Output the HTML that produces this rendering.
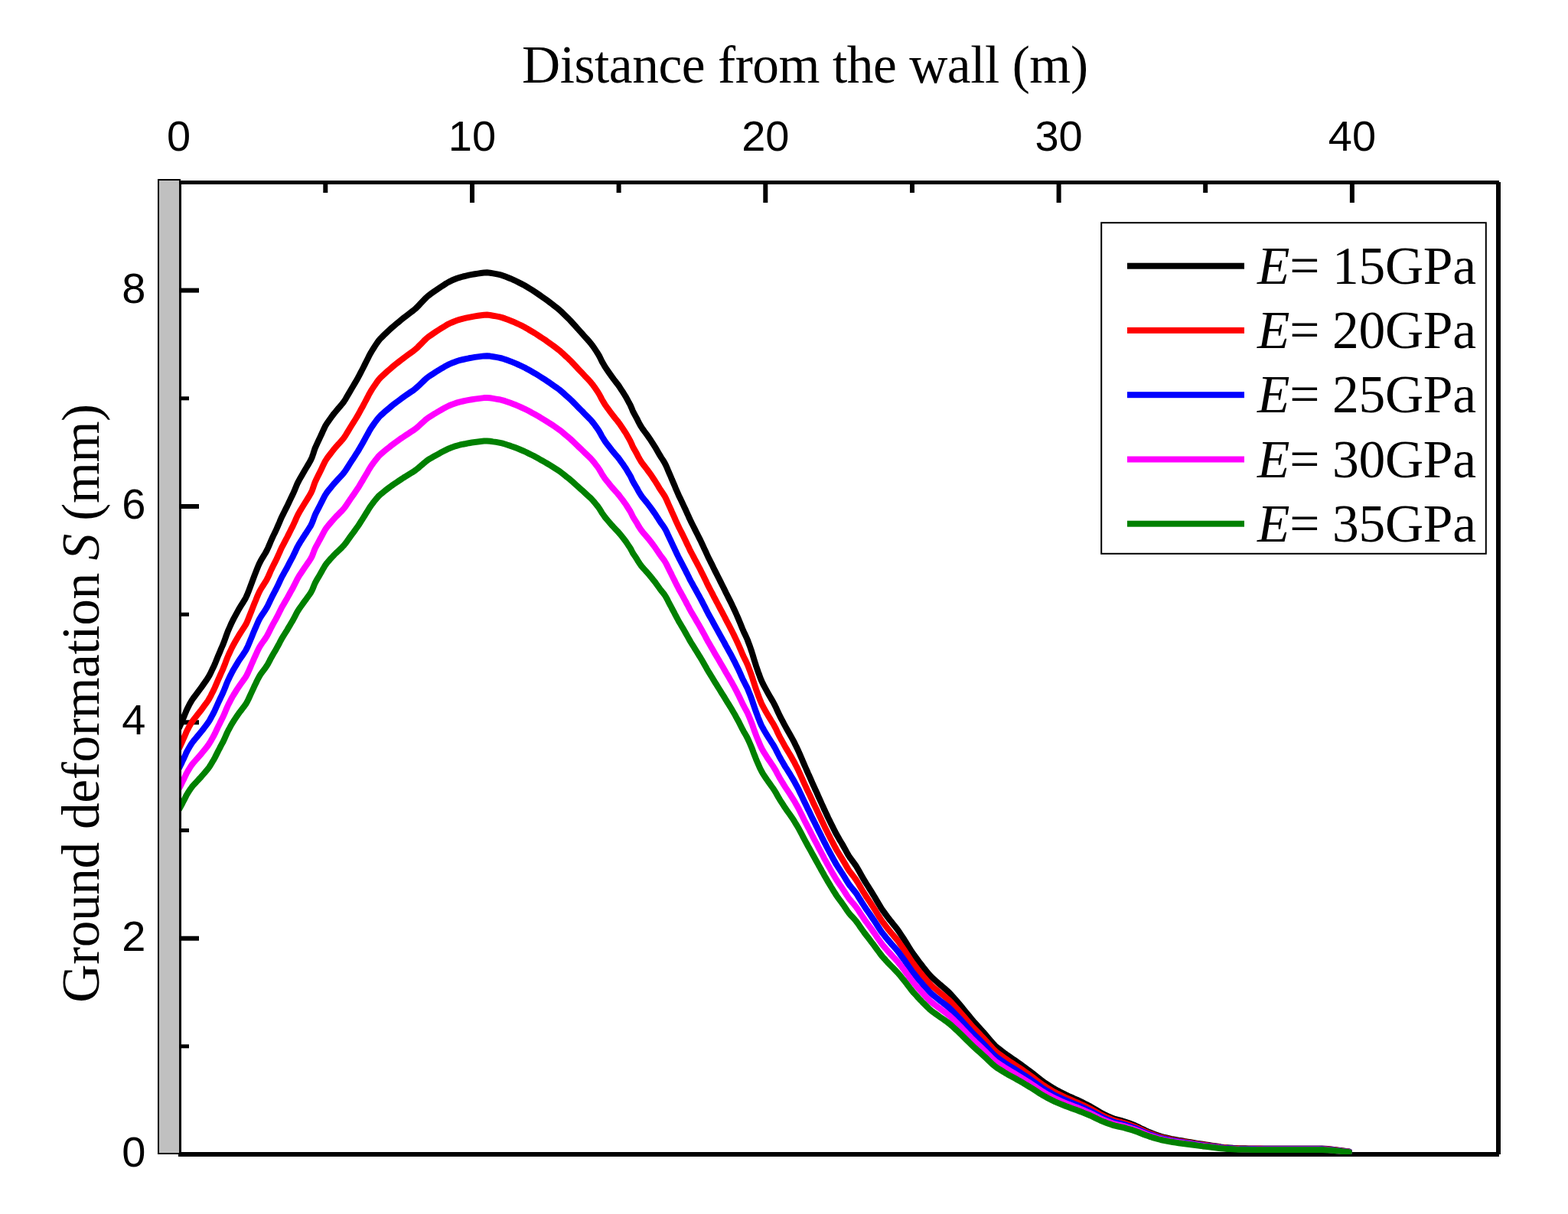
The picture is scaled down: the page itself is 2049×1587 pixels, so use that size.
<!DOCTYPE html>
<html><head><meta charset="utf-8"><style>
html,body{margin:0;padding:0;background:#fff;overflow:hidden;}
svg{display:block;}
.sans{font-family:"Liberation Sans",Arial,sans-serif;font-size:56px;fill:#000;}
.serif{font-family:"Liberation Serif","Times New Roman",serif;font-size:68px;fill:#000;}
</style></head><body>
<svg width="2049" height="1587" viewBox="0 0 2049 1587">
<rect width="2049" height="1587" fill="#fff"/>
<defs><clipPath id="pc"><rect x="234" y="238" width="1724" height="1271"/></clipPath></defs>
<g fill="#000">
<rect x="234" y="236" width="1725" height="5"/>
<rect x="233" y="1506" width="1726" height="6"/>
<rect x="1955" y="238" width="6" height="1271"/>
<rect x="422.3" y="241" width="6" height="11"/>
<rect x="614.0" y="241" width="6" height="24"/>
<rect x="805.6" y="241" width="6" height="11"/>
<rect x="997.3" y="241" width="6" height="24"/>
<rect x="1189.0" y="241" width="6" height="11"/>
<rect x="1380.6" y="241" width="6" height="24"/>
<rect x="1572.2" y="241" width="6" height="11"/>
<rect x="1763.9" y="241" width="6" height="24"/>
<rect x="237" y="1365.3" width="10" height="5"/>
<rect x="237" y="1223.7" width="23" height="6"/>
<rect x="237" y="1083.0" width="10" height="5"/>
<rect x="237" y="941.3" width="23" height="6"/>
<rect x="237" y="800.7" width="10" height="5"/>
<rect x="237" y="659.0" width="23" height="6"/>
<rect x="237" y="518.3" width="10" height="5"/>
<rect x="237" y="376.6" width="23" height="6"/>
</g>
<g clip-path="url(#pc)" fill="none" stroke-width="8" stroke-linejoin="round" stroke-linecap="round">
<path d="M234.0,951.5 L235.7,947.8 L237.3,944.2 L238.8,940.5 L240.4,936.8 L241.9,933.1 L243.4,929.4 L245.1,925.8 L246.9,922.2 L248.8,918.7 L250.8,915.3 L253.1,912.0 L255.5,908.8 L257.9,905.6 L260.3,902.4 L262.7,899.2 L265.0,895.9 L267.3,892.7 L269.6,889.4 L271.8,886.0 L273.8,882.6 L275.6,879.0 L277.3,875.4 L279.1,871.8 L280.7,868.2 L282.2,864.5 L283.7,860.8 L285.2,857.1 L286.8,853.4 L288.3,849.7 L289.9,846.0 L291.5,842.3 L292.9,838.6 L294.3,834.8 L295.6,831.1 L297.0,827.3 L298.5,823.6 L300.1,820.0 L301.7,816.3 L303.4,812.7 L305.2,809.1 L307.1,805.6 L309.0,802.1 L310.9,798.6 L312.9,795.1 L315.0,791.7 L317.1,788.3 L319.2,784.9 L321.2,781.4 L322.9,777.8 L324.4,774.1 L325.8,770.4 L327.2,766.6 L328.6,762.9 L330.0,759.2 L331.4,755.4 L332.8,751.7 L334.3,747.9 L335.7,744.2 L337.2,740.5 L338.8,736.8 L340.6,733.3 L342.6,729.8 L344.7,726.4 L346.8,723.0 L348.7,719.5 L350.4,715.9 L352.0,712.2 L353.5,708.5 L355.1,704.9 L356.8,701.2 L358.5,697.6 L360.3,694.0 L361.9,690.4 L363.5,686.7 L365.1,683.0 L366.6,679.3 L368.2,675.7 L370.0,672.1 L371.8,668.5 L373.6,664.9 L375.4,661.4 L377.1,657.8 L378.8,654.1 L380.5,650.5 L382.3,646.9 L383.9,643.3 L385.5,639.6 L387.0,635.9 L388.6,632.2 L390.4,628.7 L392.3,625.2 L394.3,621.7 L396.3,618.2 L398.3,614.8 L400.4,611.3 L402.4,607.9 L404.4,604.4 L406.3,601.0 L407.9,597.3 L409.2,593.5 L410.4,589.7 L411.7,585.9 L413.3,582.3 L415.0,578.6 L416.7,575.0 L418.4,571.4 L420.1,567.8 L421.7,564.1 L423.4,560.5 L425.1,556.9 L427.2,553.5 L429.5,550.2 L431.8,547.0 L434.2,543.7 L436.6,540.5 L439.1,537.5 L441.7,534.4 L444.3,531.4 L446.9,528.3 L449.3,525.2 L451.5,521.8 L453.5,518.3 L455.5,514.9 L457.5,511.4 L459.5,508.0 L461.6,504.5 L463.6,501.1 L465.6,497.7 L467.6,494.2 L469.5,490.6 L471.3,487.1 L473.2,483.5 L475.0,480.0 L476.8,476.4 L478.6,472.8 L480.4,469.2 L482.1,465.7 L484.0,462.1 L486.0,458.7 L488.1,455.3 L490.3,451.9 L492.5,448.6 L494.8,445.4 L497.4,442.3 L500.3,439.5 L503.1,436.7 L506.0,434.0 L509.0,431.2 L511.9,428.5 L514.9,425.9 L518.0,423.3 L521.1,420.8 L524.1,418.3 L527.3,415.7 L530.4,413.3 L533.6,410.9 L536.8,408.4 L540.0,406.0 L543.0,403.5 L545.9,400.7 L548.6,397.8 L551.4,394.8 L554.1,391.9 L556.9,389.1 L559.9,386.4 L563.1,384.1 L566.3,381.8 L569.6,379.5 L572.9,377.2 L576.2,375.0 L579.6,372.8 L582.9,370.6 L586.4,368.6 L590.0,366.8 L593.6,365.3 L597.4,363.8 L601.1,362.6 L605.0,361.5 L608.9,360.6 L612.8,359.7 L616.7,358.9 L620.6,358.2 L624.6,357.6 L628.5,357.0 L632.5,356.5 L636.4,356.3 L640.4,356.7 L644.3,357.4 L648.3,358.1 L652.2,358.9 L656.0,359.9 L659.8,361.3 L663.5,362.7 L667.2,364.2 L670.9,365.8 L674.5,367.5 L678.1,369.3 L681.6,371.1 L685.2,373.0 L688.6,375.0 L692.0,377.1 L695.4,379.2 L698.8,381.4 L702.1,383.6 L705.4,385.9 L708.7,388.2 L712.0,390.5 L715.2,392.8 L718.4,395.2 L721.6,397.6 L724.7,400.1 L727.9,402.5 L731.0,405.1 L733.9,407.8 L736.8,410.6 L739.6,413.4 L742.5,416.2 L745.3,419.0 L748.0,422.0 L750.7,424.9 L753.3,427.9 L756.0,430.9 L758.7,433.9 L761.4,436.9 L764.0,439.8 L766.7,442.8 L769.4,445.8 L772.0,448.8 L774.4,452.0 L776.7,455.3 L778.9,458.6 L781.1,462.0 L783.1,465.4 L784.9,469.0 L786.6,472.6 L788.6,476.0 L790.6,479.5 L792.8,482.8 L795.1,486.1 L797.4,489.4 L799.7,492.6 L802.1,495.9 L804.5,499.0 L807.0,502.2 L809.3,505.4 L811.5,508.8 L813.7,512.1 L815.8,515.5 L817.9,518.9 L819.8,522.4 L821.7,526.0 L823.6,529.4 L825.2,533.1 L826.7,536.8 L828.5,540.3 L830.4,543.8 L832.3,547.3 L834.0,550.9 L835.9,554.5 L837.9,557.9 L840.1,561.2 L842.5,564.5 L844.9,567.7 L847.2,570.9 L849.5,574.2 L851.7,577.6 L853.8,580.9 L856.0,584.3 L858.0,587.7 L860.0,591.2 L862.0,594.7 L864.1,598.1 L866.3,601.4 L868.4,604.8 L870.2,608.3 L871.8,612.0 L873.3,615.7 L874.9,619.4 L876.5,623.0 L878.0,626.7 L879.6,630.4 L881.2,634.1 L882.7,637.8 L884.3,641.5 L885.9,645.1 L887.5,648.8 L889.3,652.4 L891.0,656.0 L892.7,659.6 L894.4,663.2 L896.1,666.8 L897.7,670.5 L899.4,674.1 L901.0,677.8 L902.7,681.4 L904.5,685.0 L906.3,688.5 L908.1,692.1 L909.9,695.7 L911.7,699.3 L913.5,702.8 L915.3,706.4 L917.0,710.0 L918.7,713.6 L920.4,717.3 L922.1,720.9 L923.7,724.5 L925.4,728.2 L927.2,731.8 L929.0,735.3 L930.8,738.9 L932.5,742.5 L934.3,746.1 L936.1,749.6 L937.9,753.2 L939.7,756.8 L941.5,760.4 L943.3,764.0 L945.1,767.5 L946.9,771.1 L948.6,774.7 L950.4,778.3 L952.2,781.8 L954.0,785.4 L955.8,789.0 L957.5,792.6 L959.2,796.2 L960.9,799.9 L962.5,803.5 L964.1,807.2 L965.7,810.9 L967.2,814.6 L968.7,818.3 L970.2,822.0 L971.8,825.7 L973.5,829.3 L975.2,832.9 L976.8,836.5 L978.2,840.3 L979.6,844.0 L980.9,847.8 L982.2,851.6 L983.4,855.4 L984.5,859.2 L985.7,863.1 L986.9,866.9 L988.1,870.7 L989.4,874.5 L990.7,878.3 L992.1,882.0 L993.4,885.8 L994.9,889.5 L996.6,893.1 L998.4,896.7 L1000.3,900.2 L1002.2,903.7 L1004.2,907.2 L1006.2,910.7 L1008.2,914.1 L1010.2,917.5 L1012.1,921.1 L1013.9,924.7 L1015.5,928.3 L1017.2,932.0 L1018.9,935.6 L1020.7,939.1 L1022.6,942.7 L1024.4,946.2 L1026.3,949.7 L1028.3,953.2 L1030.3,956.7 L1032.3,960.2 L1034.2,963.6 L1036.1,967.1 L1038.0,970.7 L1039.7,974.3 L1041.5,977.9 L1043.2,981.5 L1044.8,985.1 L1046.4,988.8 L1048.0,992.5 L1049.5,996.2 L1051.1,999.9 L1052.7,1003.5 L1054.3,1007.2 L1055.9,1010.9 L1057.6,1014.5 L1059.2,1018.2 L1060.8,1021.8 L1062.4,1025.5 L1064.1,1029.1 L1065.7,1032.8 L1067.4,1036.4 L1069.0,1040.1 L1070.6,1043.7 L1072.3,1047.4 L1073.9,1051.0 L1075.6,1054.7 L1077.2,1058.3 L1078.9,1061.9 L1080.6,1065.5 L1082.3,1069.2 L1084.1,1072.8 L1085.8,1076.4 L1087.6,1079.9 L1089.4,1083.5 L1091.2,1087.1 L1093.0,1090.6 L1095.0,1094.1 L1097.0,1097.6 L1099.1,1101.0 L1101.1,1104.4 L1103.1,1107.9 L1105.0,1111.4 L1106.9,1115.0 L1108.9,1118.4 L1111.1,1121.7 L1113.5,1124.9 L1115.9,1128.1 L1118.2,1131.3 L1120.3,1134.8 L1122.3,1138.2 L1124.2,1141.7 L1126.2,1145.2 L1128.2,1148.7 L1130.2,1152.1 L1132.3,1155.5 L1134.5,1158.9 L1136.6,1162.3 L1138.7,1165.7 L1140.8,1169.1 L1142.9,1172.5 L1144.9,1176.0 L1146.9,1179.4 L1149.0,1182.8 L1151.0,1186.3 L1153.2,1189.6 L1155.6,1192.9 L1157.9,1196.1 L1160.3,1199.3 L1162.7,1202.5 L1165.2,1205.6 L1167.7,1208.7 L1170.2,1211.8 L1172.7,1215.0 L1175.0,1218.3 L1177.2,1221.6 L1179.4,1225.0 L1181.6,1228.3 L1183.7,1231.7 L1185.8,1235.1 L1187.9,1238.5 L1190.0,1241.9 L1192.2,1245.2 L1194.5,1248.5 L1196.9,1251.7 L1199.2,1254.9 L1201.6,1258.1 L1204.1,1261.3 L1206.5,1264.5 L1209.0,1267.6 L1211.5,1270.7 L1214.1,1273.8 L1216.8,1276.7 L1219.7,1279.4 L1222.7,1282.1 L1225.7,1284.7 L1228.7,1287.4 L1231.8,1290.0 L1234.8,1292.6 L1237.8,1295.2 L1240.7,1297.9 L1243.4,1300.9 L1246.1,1303.9 L1248.7,1306.9 L1251.3,1309.9 L1253.9,1312.9 L1256.5,1316.0 L1259.0,1319.2 L1261.5,1322.3 L1264.0,1325.3 L1266.6,1328.4 L1269.1,1331.5 L1271.7,1334.6 L1274.3,1337.6 L1277.0,1340.5 L1279.7,1343.5 L1282.4,1346.4 L1285.1,1349.4 L1287.7,1352.4 L1290.3,1355.5 L1292.9,1358.5 L1295.5,1361.6 L1298.1,1364.6 L1300.9,1367.5 L1303.9,1370.0 L1307.1,1372.5 L1310.3,1374.9 L1313.4,1377.3 L1316.7,1379.7 L1320.0,1381.9 L1323.3,1384.2 L1326.6,1386.4 L1329.9,1388.7 L1333.2,1391.0 L1336.4,1393.4 L1339.6,1395.7 L1342.8,1398.1 L1346.0,1400.5 L1349.2,1402.9 L1352.3,1405.4 L1355.4,1407.9 L1358.6,1410.4 L1361.7,1412.9 L1365.0,1415.2 L1368.3,1417.4 L1371.7,1419.6 L1375.0,1421.7 L1378.5,1423.8 L1382.0,1425.7 L1385.6,1427.5 L1389.1,1429.3 L1392.7,1431.1 L1396.3,1432.8 L1400.0,1434.4 L1403.6,1436.1 L1407.3,1437.7 L1410.9,1439.4 L1414.5,1441.2 L1418.1,1443.0 L1421.6,1444.7 L1425.2,1446.6 L1428.6,1448.6 L1432.1,1450.7 L1435.5,1452.7 L1438.9,1454.8 L1442.5,1456.6 L1446.1,1458.3 L1449.7,1460.0 L1453.4,1461.6 L1457.1,1462.9 L1461.0,1463.9 L1464.9,1464.9 L1468.7,1466.0 L1472.5,1467.3 L1476.3,1468.6 L1480.0,1470.0 L1483.7,1471.5 L1487.3,1473.2 L1490.9,1475.0 L1494.5,1476.7 L1498.1,1478.5 L1501.8,1480.1 L1505.5,1481.5 L1509.2,1482.9 L1513.0,1484.3 L1516.8,1485.6 L1520.6,1486.6 L1524.5,1487.5 L1528.4,1488.4 L1532.3,1489.3 L1536.3,1490.0 L1540.2,1490.7 L1544.2,1491.3 L1548.1,1492.0 L1552.0,1492.6 L1556.0,1493.3 L1559.9,1493.9 L1563.9,1494.6 L1567.8,1495.2 L1571.8,1495.8 L1575.7,1496.4 L1579.7,1497.0 L1583.6,1497.6 L1587.6,1498.2 L1591.6,1498.8 L1595.5,1499.4 L1599.5,1499.9 L1603.5,1500.2 L1607.5,1500.5 L1611.4,1500.8 L1615.4,1501.0 L1619.4,1501.2 L1623.4,1501.3 L1627.4,1501.3 L1631.4,1501.4 L1635.4,1501.4 L1639.4,1501.4 L1643.4,1501.5 L1647.4,1501.5 L1651.4,1501.5 L1655.4,1501.5 L1659.4,1501.5 L1663.4,1501.5 L1667.4,1501.5 L1671.4,1501.5 L1675.4,1501.5 L1679.4,1501.5 L1683.4,1501.5 L1687.4,1501.5 L1691.4,1501.5 L1695.4,1501.5 L1699.4,1501.5 L1703.4,1501.5 L1707.4,1501.5 L1711.4,1501.5 L1715.4,1501.6 L1719.4,1501.6 L1723.4,1501.6 L1727.4,1501.6 L1731.4,1501.8 L1735.4,1502.1 L1739.4,1502.5 L1743.4,1502.9 L1747.3,1503.4 L1751.3,1503.9 L1755.3,1504.5 L1759.1,1505.0 L1763.0,1505.5" stroke="#000000"/>
<path d="M234.0,978.3 L235.7,974.7 L237.3,971.3 L238.8,967.8 L240.4,964.3 L241.9,960.8 L243.4,957.3 L245.1,953.8 L246.9,950.4 L248.8,947.0 L250.8,943.8 L253.1,940.7 L255.5,937.6 L257.9,934.6 L260.3,931.5 L262.7,928.5 L265.0,925.4 L267.3,922.2 L269.6,919.1 L271.8,916.0 L273.8,912.6 L275.6,909.3 L277.3,905.8 L279.1,902.4 L280.7,898.9 L282.2,895.4 L283.7,891.9 L285.2,888.4 L286.8,884.8 L288.3,881.3 L289.9,877.8 L291.5,874.3 L292.9,870.8 L294.3,867.2 L295.6,863.6 L297.0,860.0 L298.5,856.5 L300.1,853.0 L301.7,849.6 L303.4,846.1 L305.2,842.7 L307.1,839.3 L309.0,836.0 L310.9,832.7 L312.9,829.4 L315.0,826.1 L317.1,822.9 L319.2,819.6 L321.2,816.4 L322.9,812.9 L324.4,809.4 L325.8,805.8 L327.2,802.3 L328.6,798.7 L330.0,795.1 L331.4,791.6 L332.8,788.0 L334.3,784.5 L335.7,780.9 L337.2,777.4 L338.8,773.9 L340.6,770.5 L342.6,767.2 L344.7,764.0 L346.8,760.7 L348.7,757.4 L350.4,754.0 L352.0,750.5 L353.5,746.9 L355.1,743.5 L356.8,740.0 L358.5,736.6 L360.3,733.1 L361.9,729.7 L363.5,726.2 L365.1,722.7 L366.6,719.2 L368.2,715.7 L370.0,712.3 L371.8,708.8 L373.6,705.4 L375.4,702.0 L377.1,698.6 L378.8,695.2 L380.5,691.7 L382.3,688.3 L383.9,684.8 L385.5,681.3 L387.0,677.8 L388.6,674.3 L390.4,670.9 L392.3,667.6 L394.3,664.3 L396.3,661.0 L398.3,657.7 L400.4,654.4 L402.4,651.1 L404.4,647.9 L406.3,644.5 L407.9,641.1 L409.2,637.4 L410.4,633.8 L411.7,630.2 L413.3,626.8 L415.0,623.3 L416.7,619.9 L418.4,616.4 L420.1,612.9 L421.7,609.5 L423.4,606.0 L425.1,602.6 L427.2,599.4 L429.5,596.2 L431.8,593.2 L434.2,590.1 L436.6,587.0 L439.1,584.1 L441.7,581.2 L444.3,578.3 L446.9,575.4 L449.3,572.4 L451.5,569.2 L453.5,565.9 L455.5,562.6 L457.5,559.3 L459.5,556.0 L461.6,552.7 L463.6,549.5 L465.6,546.2 L467.6,542.9 L469.5,539.5 L471.3,536.1 L473.2,532.8 L475.0,529.4 L476.8,526.0 L478.6,522.6 L480.4,519.2 L482.1,515.7 L484.0,512.4 L486.0,509.1 L488.1,505.9 L490.3,502.7 L492.5,499.5 L494.8,496.4 L497.4,493.5 L500.3,490.8 L503.1,488.2 L506.0,485.6 L509.0,483.0 L511.9,480.4 L514.9,477.9 L518.0,475.4 L521.1,473.0 L524.1,470.6 L527.3,468.2 L530.4,465.9 L533.6,463.6 L536.8,461.3 L540.0,459.0 L543.0,456.5 L545.9,453.9 L548.6,451.1 L551.4,448.3 L554.1,445.5 L556.9,442.8 L559.9,440.3 L563.1,438.1 L566.3,435.9 L569.6,433.7 L572.9,431.5 L576.2,429.4 L579.6,427.3 L582.9,425.3 L586.4,423.3 L590.0,421.7 L593.6,420.2 L597.4,418.8 L601.1,417.6 L605.0,416.6 L608.9,415.7 L612.8,414.9 L616.7,414.1 L620.6,413.4 L624.6,412.8 L628.5,412.3 L632.5,411.8 L636.4,411.6 L640.4,412.0 L644.3,412.7 L648.3,413.4 L652.2,414.1 L656.0,415.1 L659.8,416.4 L663.5,417.8 L667.2,419.2 L670.9,420.7 L674.5,422.3 L678.1,424.0 L681.6,425.7 L685.2,427.5 L688.6,429.4 L692.0,431.5 L695.4,433.5 L698.8,435.5 L702.1,437.6 L705.4,439.8 L708.7,442.0 L712.0,444.1 L715.2,446.4 L718.4,448.7 L721.6,451.0 L724.7,453.3 L727.9,455.7 L731.0,458.1 L733.9,460.7 L736.8,463.3 L739.6,466.0 L742.5,468.6 L745.3,471.3 L748.0,474.1 L750.7,477.0 L753.3,479.8 L756.0,482.7 L758.7,485.5 L761.4,488.3 L764.0,491.2 L766.7,494.0 L769.4,496.8 L772.0,499.7 L774.4,502.7 L776.7,505.8 L778.9,509.0 L781.1,512.2 L783.1,515.5 L784.9,518.9 L786.6,522.3 L788.6,525.6 L790.6,528.9 L792.8,532.1 L795.1,535.2 L797.4,538.3 L799.7,541.4 L802.1,544.5 L804.5,547.5 L807.0,550.5 L809.3,553.6 L811.5,556.8 L813.7,560.0 L815.8,563.2 L817.9,566.4 L819.8,569.8 L821.7,573.1 L823.6,576.5 L825.2,579.9 L826.7,583.4 L828.5,586.8 L830.4,590.1 L832.3,593.5 L834.0,596.9 L835.9,600.3 L837.9,603.6 L840.1,606.7 L842.5,609.8 L844.9,612.9 L847.2,616.0 L849.5,619.1 L851.7,622.3 L853.8,625.5 L856.0,628.7 L858.0,632.0 L860.0,635.2 L862.0,638.6 L864.1,641.8 L866.3,645.0 L868.4,648.2 L870.2,651.6 L871.8,655.1 L873.3,658.6 L874.9,662.1 L876.5,665.6 L878.0,669.1 L879.6,672.6 L881.2,676.1 L882.7,679.6 L884.3,683.1 L885.9,686.6 L887.5,690.0 L889.3,693.5 L891.0,696.9 L892.7,700.3 L894.4,703.8 L896.1,707.3 L897.7,710.7 L899.4,714.2 L901.0,717.7 L902.7,721.1 L904.5,724.5 L906.3,727.9 L908.1,731.3 L909.9,734.7 L911.7,738.1 L913.5,741.5 L915.3,744.9 L917.0,748.4 L918.7,751.8 L920.4,755.3 L922.1,758.7 L923.7,762.2 L925.4,765.6 L927.2,769.1 L929.0,772.5 L930.8,775.9 L932.5,779.3 L934.3,782.7 L936.1,786.1 L937.9,789.5 L939.7,792.9 L941.5,796.3 L943.3,799.7 L945.1,803.1 L946.9,806.5 L948.6,809.9 L950.4,813.3 L952.2,816.7 L954.0,820.2 L955.8,823.6 L957.5,827.0 L959.2,830.4 L960.9,833.9 L962.5,837.4 L964.1,840.9 L965.7,844.4 L967.2,847.9 L968.7,851.4 L970.2,855.0 L971.8,858.5 L973.5,861.9 L975.2,865.3 L976.8,868.8 L978.2,872.4 L979.6,876.0 L980.9,879.6 L982.2,883.2 L983.4,886.8 L984.5,890.4 L985.7,894.1 L986.9,897.7 L988.1,901.3 L989.4,904.9 L990.7,908.5 L992.1,912.1 L993.4,915.7 L994.9,919.2 L996.6,922.7 L998.4,926.1 L1000.3,929.4 L1002.2,932.8 L1004.2,936.1 L1006.2,939.4 L1008.2,942.7 L1010.2,945.9 L1012.1,949.3 L1013.9,952.7 L1015.5,956.2 L1017.2,959.7 L1018.9,963.1 L1020.7,966.5 L1022.6,969.9 L1024.4,973.2 L1026.3,976.6 L1028.3,979.9 L1030.3,983.2 L1032.3,986.5 L1034.2,989.8 L1036.1,993.2 L1038.0,996.5 L1039.7,1000.0 L1041.5,1003.4 L1043.2,1006.8 L1044.8,1010.3 L1046.4,1013.8 L1048.0,1017.3 L1049.5,1020.8 L1051.1,1024.3 L1052.7,1027.8 L1054.3,1031.3 L1055.9,1034.8 L1057.6,1038.2 L1059.2,1041.7 L1060.8,1045.2 L1062.4,1048.7 L1064.1,1052.2 L1065.7,1055.6 L1067.4,1059.1 L1069.0,1062.6 L1070.6,1066.0 L1072.3,1069.5 L1073.9,1073.0 L1075.6,1076.5 L1077.2,1079.9 L1078.9,1083.4 L1080.6,1086.8 L1082.3,1090.3 L1084.1,1093.7 L1085.8,1097.1 L1087.6,1100.5 L1089.4,1103.9 L1091.2,1107.3 L1093.0,1110.7 L1095.0,1114.0 L1097.0,1117.3 L1099.1,1120.6 L1101.1,1123.9 L1103.1,1127.2 L1105.0,1130.5 L1106.9,1133.9 L1108.9,1137.2 L1111.1,1140.3 L1113.5,1143.3 L1115.9,1146.4 L1118.2,1149.5 L1120.3,1152.7 L1122.3,1156.0 L1124.2,1159.3 L1126.2,1162.7 L1128.2,1166.0 L1130.2,1169.2 L1132.3,1172.5 L1134.5,1175.7 L1136.6,1178.9 L1138.7,1182.2 L1140.8,1185.4 L1142.9,1188.7 L1144.9,1191.9 L1146.9,1195.2 L1149.0,1198.5 L1151.0,1201.8 L1153.2,1204.9 L1155.6,1208.0 L1157.9,1211.1 L1160.3,1214.2 L1162.7,1217.2 L1165.2,1220.2 L1167.7,1223.1 L1170.2,1226.1 L1172.7,1229.1 L1175.0,1232.2 L1177.2,1235.4 L1179.4,1238.6 L1181.6,1241.8 L1183.7,1245.0 L1185.8,1248.2 L1187.9,1251.5 L1190.0,1254.7 L1192.2,1257.9 L1194.5,1261.0 L1196.9,1264.1 L1199.2,1267.1 L1201.6,1270.2 L1204.1,1273.2 L1206.5,1276.2 L1209.0,1279.2 L1211.5,1282.1 L1214.1,1285.1 L1216.8,1287.9 L1219.7,1290.5 L1222.7,1293.0 L1225.7,1295.5 L1228.7,1298.0 L1231.8,1300.5 L1234.8,1303.0 L1237.8,1305.5 L1240.7,1308.1 L1243.4,1310.9 L1246.1,1313.7 L1248.7,1316.6 L1251.3,1319.5 L1253.9,1322.4 L1256.5,1325.3 L1259.0,1328.3 L1261.5,1331.2 L1264.0,1334.2 L1266.6,1337.1 L1269.1,1340.0 L1271.7,1343.0 L1274.3,1345.8 L1277.0,1348.6 L1279.7,1351.4 L1282.4,1354.2 L1285.1,1357.1 L1287.7,1360.0 L1290.3,1362.8 L1292.9,1365.8 L1295.5,1368.7 L1298.1,1371.6 L1300.9,1374.2 L1303.9,1376.7 L1307.1,1379.0 L1310.3,1381.3 L1313.4,1383.6 L1316.7,1385.9 L1320.0,1388.0 L1323.3,1390.2 L1326.6,1392.3 L1329.9,1394.5 L1333.2,1396.7 L1336.4,1398.9 L1339.6,1401.2 L1342.8,1403.4 L1346.0,1405.7 L1349.2,1408.0 L1352.3,1410.4 L1355.4,1412.8 L1358.6,1415.2 L1361.7,1417.5 L1365.0,1419.7 L1368.3,1421.8 L1371.7,1423.9 L1375.0,1425.9 L1378.5,1427.9 L1382.0,1429.7 L1385.6,1431.4 L1389.1,1433.1 L1392.7,1434.8 L1396.3,1436.4 L1400.0,1438.0 L1403.6,1439.6 L1407.3,1441.1 L1410.9,1442.8 L1414.5,1444.4 L1418.1,1446.1 L1421.6,1447.8 L1425.2,1449.6 L1428.6,1451.5 L1432.1,1453.5 L1435.5,1455.4 L1438.9,1457.4 L1442.5,1459.1 L1446.1,1460.8 L1449.7,1462.3 L1453.4,1463.8 L1457.1,1465.1 L1461.0,1466.1 L1464.9,1467.0 L1468.7,1468.1 L1472.5,1469.3 L1476.3,1470.6 L1480.0,1471.9 L1483.7,1473.3 L1487.3,1474.9 L1490.9,1476.6 L1494.5,1478.3 L1498.1,1480.0 L1501.8,1481.5 L1505.5,1482.8 L1509.2,1484.2 L1513.0,1485.5 L1516.8,1486.7 L1520.6,1487.7 L1524.5,1488.5 L1528.4,1489.4 L1532.3,1490.2 L1536.3,1490.9 L1540.2,1491.6 L1544.2,1492.2 L1548.1,1492.8 L1552.0,1493.4 L1556.0,1494.0 L1559.9,1494.7 L1563.9,1495.3 L1567.8,1495.9 L1571.8,1496.5 L1575.7,1497.0 L1579.7,1497.6 L1583.6,1498.2 L1587.6,1498.7 L1591.6,1499.3 L1595.5,1499.9 L1599.5,1500.3 L1603.5,1500.7 L1607.5,1500.9 L1611.4,1501.2 L1615.4,1501.4 L1619.4,1501.6 L1623.4,1501.7 L1627.4,1501.7 L1631.4,1501.7 L1635.4,1501.8 L1639.4,1501.8 L1643.4,1501.8 L1647.4,1501.8 L1651.4,1501.9 L1655.4,1501.9 L1659.4,1501.9 L1663.4,1501.9 L1667.4,1501.9 L1671.4,1501.9 L1675.4,1501.9 L1679.4,1501.9 L1683.4,1501.9 L1687.4,1501.9 L1691.4,1501.9 L1695.4,1501.9 L1699.4,1501.9 L1703.4,1501.9 L1707.4,1501.9 L1711.4,1501.9 L1715.4,1501.9 L1719.4,1501.9 L1723.4,1501.9 L1727.4,1502.0 L1731.4,1502.1 L1735.4,1502.4 L1739.4,1502.8 L1743.4,1503.2 L1747.3,1503.6 L1751.3,1504.2 L1755.3,1504.7 L1759.1,1505.2 L1763.0,1505.7" stroke="#FF0000"/>
<path d="M234.0,1004.2 L235.7,1000.8 L237.3,997.6 L238.8,994.2 L240.4,990.9 L241.9,987.6 L243.4,984.2 L245.1,980.9 L246.9,977.7 L248.8,974.5 L250.8,971.4 L253.1,968.4 L255.5,965.5 L257.9,962.6 L260.3,959.7 L262.7,956.8 L265.0,953.9 L267.3,950.9 L269.6,947.9 L271.8,944.9 L273.8,941.8 L275.6,938.5 L277.3,935.3 L279.1,932.0 L280.7,928.7 L282.2,925.4 L283.7,922.0 L285.2,918.7 L286.8,915.3 L288.3,912.0 L289.9,908.7 L291.5,905.3 L292.9,902.0 L294.3,898.6 L295.6,895.1 L297.0,891.7 L298.5,888.4 L300.1,885.1 L301.7,881.8 L303.4,878.5 L305.2,875.2 L307.1,872.0 L309.0,868.9 L310.9,865.7 L312.9,862.5 L315.0,859.5 L317.1,856.4 L319.2,853.3 L321.2,850.2 L322.9,846.9 L324.4,843.6 L325.8,840.2 L327.2,836.8 L328.6,833.4 L330.0,830.0 L331.4,826.6 L332.8,823.2 L334.3,819.8 L335.7,816.5 L337.2,813.1 L338.8,809.8 L340.6,806.6 L342.6,803.5 L344.7,800.4 L346.8,797.3 L348.7,794.1 L350.4,790.8 L352.0,787.5 L353.5,784.2 L355.1,780.9 L356.8,777.6 L358.5,774.3 L360.3,771.0 L361.9,767.7 L363.5,764.4 L365.1,761.1 L366.6,757.7 L368.2,754.4 L370.0,751.2 L371.8,747.9 L373.6,744.7 L375.4,741.5 L377.1,738.2 L378.8,734.9 L380.5,731.7 L382.3,728.4 L383.9,725.1 L385.5,721.8 L387.0,718.4 L388.6,715.1 L390.4,711.9 L392.3,708.7 L394.3,705.6 L396.3,702.4 L398.3,699.3 L400.4,696.2 L402.4,693.0 L404.4,689.9 L406.3,686.8 L407.9,683.4 L409.2,680.0 L410.4,676.6 L411.7,673.2 L413.3,669.8 L415.0,666.6 L416.7,663.3 L418.4,660.0 L420.1,656.7 L421.7,653.4 L423.4,650.1 L425.1,646.9 L427.2,643.8 L429.5,640.8 L431.8,637.9 L434.2,635.0 L436.6,632.1 L439.1,629.3 L441.7,626.5 L444.3,623.8 L446.9,621.0 L449.3,618.1 L451.5,615.1 L453.5,612.0 L455.5,608.8 L457.5,605.7 L459.5,602.6 L461.6,599.5 L463.6,596.3 L465.6,593.2 L467.6,590.1 L469.5,586.9 L471.3,583.7 L473.2,580.4 L475.0,577.2 L476.8,574.0 L478.6,570.7 L480.4,567.5 L482.1,564.3 L484.0,561.0 L486.0,557.9 L488.1,554.9 L490.3,551.8 L492.5,548.8 L494.8,545.9 L497.4,543.1 L500.3,540.6 L503.1,538.1 L506.0,535.6 L509.0,533.1 L511.9,530.6 L514.9,528.2 L518.0,525.9 L521.1,523.6 L524.1,521.3 L527.3,519.0 L530.4,516.8 L533.6,514.6 L536.8,512.4 L540.0,510.3 L543.0,507.9 L545.9,505.4 L548.6,502.8 L551.4,500.1 L554.1,497.5 L556.9,494.9 L559.9,492.5 L563.1,490.4 L566.3,488.3 L569.6,486.2 L572.9,484.1 L576.2,482.1 L579.6,480.2 L582.9,478.2 L586.4,476.4 L590.0,474.8 L593.6,473.4 L597.4,472.0 L601.1,470.9 L605.0,470.0 L608.9,469.1 L612.8,468.3 L616.7,467.6 L620.6,466.9 L624.6,466.4 L628.5,465.9 L632.5,465.4 L636.4,465.2 L640.4,465.6 L644.3,466.2 L648.3,466.9 L652.2,467.6 L656.0,468.5 L659.8,469.7 L663.5,471.1 L667.2,472.4 L670.9,473.9 L674.5,475.4 L678.1,477.0 L681.6,478.7 L685.2,480.3 L688.6,482.2 L692.0,484.1 L695.4,486.0 L698.8,487.9 L702.1,489.9 L705.4,492.0 L708.7,494.1 L712.0,496.2 L715.2,498.3 L718.4,500.4 L721.6,502.7 L724.7,504.9 L727.9,507.1 L731.0,509.4 L733.9,511.9 L736.8,514.4 L739.6,516.9 L742.5,519.5 L745.3,522.0 L748.0,524.7 L750.7,527.4 L753.3,530.1 L756.0,532.8 L758.7,535.5 L761.4,538.2 L764.0,540.9 L766.7,543.6 L769.4,546.3 L772.0,549.0 L774.4,551.9 L776.7,554.8 L778.9,557.9 L781.1,560.9 L783.1,564.0 L784.9,567.2 L786.6,570.5 L788.6,573.7 L790.6,576.8 L792.8,579.8 L795.1,582.8 L797.4,585.7 L799.7,588.7 L802.1,591.6 L804.5,594.5 L807.0,597.3 L809.3,600.3 L811.5,603.3 L813.7,606.3 L815.8,609.4 L817.9,612.5 L819.8,615.7 L821.7,618.9 L823.6,622.0 L825.2,625.3 L826.7,628.6 L828.5,631.9 L830.4,635.0 L832.3,638.2 L834.0,641.5 L835.9,644.7 L837.9,647.8 L840.1,650.8 L842.5,653.7 L844.9,656.6 L847.2,659.6 L849.5,662.6 L851.7,665.6 L853.8,668.6 L856.0,671.7 L858.0,674.8 L860.0,677.9 L862.0,681.1 L864.1,684.2 L866.3,687.2 L868.4,690.2 L870.2,693.4 L871.8,696.8 L873.3,700.1 L874.9,703.4 L876.5,706.8 L878.0,710.1 L879.6,713.4 L881.2,716.8 L882.7,720.1 L884.3,723.4 L885.9,726.8 L887.5,730.0 L889.3,733.3 L891.0,736.6 L892.7,739.8 L894.4,743.1 L896.1,746.4 L897.7,749.7 L899.4,753.0 L901.0,756.3 L902.7,759.6 L904.5,762.8 L906.3,766.1 L908.1,769.3 L909.9,772.5 L911.7,775.8 L913.5,779.0 L915.3,782.3 L917.0,785.5 L918.7,788.8 L920.4,792.1 L922.1,795.4 L923.7,798.7 L925.4,802.0 L927.2,805.2 L929.0,808.4 L930.8,811.7 L932.5,814.9 L934.3,818.2 L936.1,821.4 L937.9,824.6 L939.7,827.9 L941.5,831.1 L943.3,834.4 L945.1,837.6 L946.9,840.8 L948.6,844.1 L950.4,847.3 L952.2,850.6 L954.0,853.8 L955.8,857.0 L957.5,860.3 L959.2,863.6 L960.9,866.9 L962.5,870.2 L964.1,873.5 L965.7,876.8 L967.2,880.2 L968.7,883.6 L970.2,886.9 L971.8,890.2 L973.5,893.5 L975.2,896.8 L976.8,900.1 L978.2,903.5 L979.6,906.9 L980.9,910.3 L982.2,913.7 L983.4,917.2 L984.5,920.7 L985.7,924.1 L986.9,927.6 L988.1,931.0 L989.4,934.4 L990.7,937.9 L992.1,941.3 L993.4,944.7 L994.9,948.1 L996.6,951.3 L998.4,954.5 L1000.3,957.7 L1002.2,960.9 L1004.2,964.1 L1006.2,967.2 L1008.2,970.3 L1010.2,973.4 L1012.1,976.6 L1013.9,979.9 L1015.5,983.2 L1017.2,986.5 L1018.9,989.8 L1020.7,993.0 L1022.6,996.2 L1024.4,999.4 L1026.3,1002.6 L1028.3,1005.7 L1030.3,1008.9 L1032.3,1012.0 L1034.2,1015.2 L1036.1,1018.4 L1038.0,1021.6 L1039.7,1024.8 L1041.5,1028.1 L1043.2,1031.3 L1044.8,1034.7 L1046.4,1038.0 L1048.0,1041.3 L1049.5,1044.6 L1051.1,1048.0 L1052.7,1051.3 L1054.3,1054.6 L1055.9,1057.9 L1057.6,1061.2 L1059.2,1064.6 L1060.8,1067.9 L1062.4,1071.2 L1064.1,1074.5 L1065.7,1077.8 L1067.4,1081.1 L1069.0,1084.4 L1070.6,1087.7 L1072.3,1091.0 L1073.9,1094.3 L1075.6,1097.6 L1077.2,1100.9 L1078.9,1104.2 L1080.6,1107.5 L1082.3,1110.7 L1084.1,1114.0 L1085.8,1117.2 L1087.6,1120.5 L1089.4,1123.7 L1091.2,1127.0 L1093.0,1130.2 L1095.0,1133.3 L1097.0,1136.4 L1099.1,1139.6 L1101.1,1142.7 L1103.1,1145.8 L1105.0,1149.0 L1106.9,1152.2 L1108.9,1155.3 L1111.1,1158.3 L1113.5,1161.2 L1115.9,1164.1 L1118.2,1167.0 L1120.3,1170.1 L1122.3,1173.3 L1124.2,1176.4 L1126.2,1179.6 L1128.2,1182.7 L1130.2,1185.8 L1132.3,1188.9 L1134.5,1192.0 L1136.6,1195.1 L1138.7,1198.1 L1140.8,1201.2 L1142.9,1204.3 L1144.9,1207.4 L1146.9,1210.5 L1149.0,1213.7 L1151.0,1216.8 L1153.2,1219.8 L1155.6,1222.7 L1157.9,1225.7 L1160.3,1228.6 L1162.7,1231.4 L1165.2,1234.3 L1167.7,1237.1 L1170.2,1239.9 L1172.7,1242.8 L1175.0,1245.8 L1177.2,1248.8 L1179.4,1251.8 L1181.6,1254.8 L1183.7,1257.9 L1185.8,1261.0 L1187.9,1264.0 L1190.0,1267.1 L1192.2,1270.2 L1194.5,1273.1 L1196.9,1276.0 L1199.2,1279.0 L1201.6,1281.9 L1204.1,1284.7 L1206.5,1287.6 L1209.0,1290.4 L1211.5,1293.2 L1214.1,1296.0 L1216.8,1298.7 L1219.7,1301.1 L1222.7,1303.5 L1225.7,1305.9 L1228.7,1308.3 L1231.8,1310.7 L1234.8,1313.0 L1237.8,1315.4 L1240.7,1317.9 L1243.4,1320.5 L1246.1,1323.3 L1248.7,1326.0 L1251.3,1328.7 L1253.9,1331.5 L1256.5,1334.3 L1259.0,1337.1 L1261.5,1339.9 L1264.0,1342.7 L1266.6,1345.5 L1269.1,1348.3 L1271.7,1351.1 L1274.3,1353.8 L1277.0,1356.4 L1279.7,1359.1 L1282.4,1361.8 L1285.1,1364.5 L1287.7,1367.2 L1290.3,1370.0 L1292.9,1372.8 L1295.5,1375.5 L1298.1,1378.3 L1300.9,1380.8 L1303.9,1383.1 L1307.1,1385.4 L1310.3,1387.6 L1313.4,1389.8 L1316.7,1391.9 L1320.0,1394.0 L1323.3,1396.0 L1326.6,1398.0 L1329.9,1400.1 L1333.2,1402.2 L1336.4,1404.3 L1339.6,1406.4 L1342.8,1408.6 L1346.0,1410.7 L1349.2,1413.0 L1352.3,1415.2 L1355.4,1417.5 L1358.6,1419.8 L1361.7,1422.0 L1365.0,1424.1 L1368.3,1426.1 L1371.7,1428.0 L1375.0,1430.0 L1378.5,1431.9 L1382.0,1433.6 L1385.6,1435.2 L1389.1,1436.8 L1392.7,1438.4 L1396.3,1440.0 L1400.0,1441.5 L1403.6,1442.9 L1407.3,1444.4 L1410.9,1446.0 L1414.5,1447.6 L1418.1,1449.2 L1421.6,1450.8 L1425.2,1452.5 L1428.6,1454.3 L1432.1,1456.2 L1435.5,1458.1 L1438.9,1459.9 L1442.5,1461.6 L1446.1,1463.1 L1449.7,1464.6 L1453.4,1466.0 L1457.1,1467.3 L1461.0,1468.2 L1464.9,1469.0 L1468.7,1470.1 L1472.5,1471.2 L1476.3,1472.4 L1480.0,1473.7 L1483.7,1475.0 L1487.3,1476.6 L1490.9,1478.2 L1494.5,1479.8 L1498.1,1481.4 L1501.8,1482.8 L1505.5,1484.1 L1509.2,1485.4 L1513.0,1486.6 L1516.8,1487.8 L1520.6,1488.7 L1524.5,1489.5 L1528.4,1490.4 L1532.3,1491.1 L1536.3,1491.8 L1540.2,1492.4 L1544.2,1493.0 L1548.1,1493.6 L1552.0,1494.2 L1556.0,1494.8 L1559.9,1495.4 L1563.9,1496.0 L1567.8,1496.5 L1571.8,1497.1 L1575.7,1497.6 L1579.7,1498.2 L1583.6,1498.7 L1587.6,1499.2 L1591.6,1499.8 L1595.5,1500.3 L1599.5,1500.8 L1603.5,1501.1 L1607.5,1501.3 L1611.4,1501.5 L1615.4,1501.8 L1619.4,1501.9 L1623.4,1502.0 L1627.4,1502.1 L1631.4,1502.1 L1635.4,1502.1 L1639.4,1502.1 L1643.4,1502.2 L1647.4,1502.2 L1651.4,1502.2 L1655.4,1502.2 L1659.4,1502.2 L1663.4,1502.2 L1667.4,1502.2 L1671.4,1502.2 L1675.4,1502.2 L1679.4,1502.2 L1683.4,1502.2 L1687.4,1502.2 L1691.4,1502.2 L1695.4,1502.2 L1699.4,1502.2 L1703.4,1502.2 L1707.4,1502.2 L1711.4,1502.2 L1715.4,1502.3 L1719.4,1502.3 L1723.4,1502.3 L1727.4,1502.3 L1731.4,1502.5 L1735.4,1502.8 L1739.4,1503.1 L1743.4,1503.5 L1747.3,1503.9 L1751.3,1504.4 L1755.3,1504.9 L1759.1,1505.4 L1763.0,1505.8" stroke="#0000FF"/>
<path d="M234.0,1030.7 L235.7,1027.5 L237.3,1024.4 L238.8,1021.2 L240.4,1018.1 L241.9,1014.9 L243.4,1011.7 L245.1,1008.6 L246.9,1005.6 L248.8,1002.5 L250.8,999.6 L253.1,996.8 L255.5,994.0 L257.9,991.3 L260.3,988.6 L262.7,985.8 L265.0,983.0 L267.3,980.2 L269.6,977.4 L271.8,974.5 L273.8,971.5 L275.6,968.5 L277.3,965.4 L279.1,962.3 L280.7,959.2 L282.2,956.0 L283.7,952.8 L285.2,949.6 L286.8,946.5 L288.3,943.3 L289.9,940.2 L291.5,937.0 L292.9,933.8 L294.3,930.6 L295.6,927.3 L297.0,924.1 L298.5,920.9 L300.1,917.8 L301.7,914.7 L303.4,911.5 L305.2,908.5 L307.1,905.5 L309.0,902.4 L310.9,899.4 L312.9,896.5 L315.0,893.5 L317.1,890.6 L319.2,887.7 L321.2,884.8 L322.9,881.7 L324.4,878.5 L325.8,875.3 L327.2,872.1 L328.6,868.8 L330.0,865.6 L331.4,862.4 L332.8,859.2 L334.3,856.0 L335.7,852.8 L337.2,849.6 L338.8,846.5 L340.6,843.4 L342.6,840.5 L344.7,837.6 L346.8,834.6 L348.7,831.6 L350.4,828.5 L352.0,825.4 L353.5,822.2 L355.1,819.1 L356.8,815.9 L358.5,812.8 L360.3,809.7 L361.9,806.6 L363.5,803.5 L365.1,800.3 L366.6,797.2 L368.2,794.0 L370.0,790.9 L371.8,787.9 L373.6,784.8 L375.4,781.7 L377.1,778.6 L378.8,775.5 L380.5,772.4 L382.3,769.3 L383.9,766.2 L385.5,763.0 L387.0,759.9 L388.6,756.7 L390.4,753.7 L392.3,750.7 L394.3,747.7 L396.3,744.7 L398.3,741.8 L400.4,738.8 L402.4,735.8 L404.4,732.9 L406.3,729.9 L407.9,726.8 L409.2,723.5 L410.4,720.2 L411.7,717.0 L413.3,713.9 L415.0,710.8 L416.7,707.7 L418.4,704.5 L420.1,701.4 L421.7,698.3 L423.4,695.2 L425.1,692.1 L427.2,689.2 L429.5,686.4 L431.8,683.6 L434.2,680.8 L436.6,678.1 L439.1,675.4 L441.7,672.8 L444.3,670.2 L446.9,667.6 L449.3,664.9 L451.5,662.0 L453.5,659.0 L455.5,656.0 L457.5,653.1 L459.5,650.1 L461.6,647.2 L463.6,644.2 L465.6,641.3 L467.6,638.3 L469.5,635.3 L471.3,632.2 L473.2,629.2 L475.0,626.1 L476.8,623.0 L478.6,620.0 L480.4,616.9 L482.1,613.8 L484.0,610.8 L486.0,607.8 L488.1,604.9 L490.3,602.0 L492.5,599.2 L494.8,596.4 L497.4,593.8 L500.3,591.4 L503.1,589.0 L506.0,586.6 L509.0,584.3 L511.9,581.9 L514.9,579.7 L518.0,577.5 L521.1,575.3 L524.1,573.1 L527.3,571.0 L530.4,568.9 L533.6,566.8 L536.8,564.7 L540.0,562.6 L543.0,560.5 L545.9,558.1 L548.6,555.6 L551.4,553.1 L554.1,550.6 L556.9,548.1 L559.9,545.8 L563.1,543.8 L566.3,541.8 L569.6,539.9 L572.9,537.9 L576.2,536.0 L579.6,534.1 L582.9,532.3 L586.4,530.5 L590.0,529.0 L593.6,527.7 L597.4,526.4 L601.1,525.3 L605.0,524.5 L608.9,523.7 L612.8,522.9 L616.7,522.2 L620.6,521.6 L624.6,521.1 L628.5,520.6 L632.5,520.1 L636.4,520.0 L640.4,520.3 L644.3,520.9 L648.3,521.6 L652.2,522.2 L656.0,523.1 L659.8,524.2 L663.5,525.5 L667.2,526.8 L670.9,528.2 L674.5,529.6 L678.1,531.2 L681.6,532.7 L685.2,534.3 L688.6,536.0 L692.0,537.8 L695.4,539.7 L698.8,541.5 L702.1,543.4 L705.4,545.3 L708.7,547.3 L712.0,549.3 L715.2,551.3 L718.4,553.3 L721.6,555.4 L724.7,557.5 L727.9,559.7 L731.0,561.9 L733.9,564.2 L736.8,566.6 L739.6,569.0 L742.5,571.4 L745.3,573.8 L748.0,576.3 L750.7,578.9 L753.3,581.4 L756.0,584.0 L758.7,586.5 L761.4,589.1 L764.0,591.7 L766.7,594.2 L769.4,596.8 L772.0,599.4 L774.4,602.1 L776.7,604.9 L778.9,607.8 L781.1,610.6 L783.1,613.6 L784.9,616.6 L786.6,619.7 L788.6,622.7 L790.6,625.7 L792.8,628.5 L795.1,631.3 L797.4,634.2 L799.7,637.0 L802.1,639.7 L804.5,642.4 L807.0,645.1 L809.3,647.9 L811.5,650.8 L813.7,653.7 L815.8,656.6 L817.9,659.5 L819.8,662.5 L821.7,665.5 L823.6,668.5 L825.2,671.6 L826.7,674.8 L828.5,677.9 L830.4,680.9 L832.3,683.9 L834.0,687.0 L835.9,690.0 L837.9,693.0 L840.1,695.8 L842.5,698.6 L844.9,701.4 L847.2,704.1 L849.5,707.0 L851.7,709.8 L853.8,712.7 L856.0,715.6 L858.0,718.6 L860.0,721.5 L862.0,724.5 L864.1,727.5 L866.3,730.3 L868.4,733.2 L870.2,736.2 L871.8,739.4 L873.3,742.5 L874.9,745.7 L876.5,748.8 L878.0,752.0 L879.6,755.2 L881.2,758.3 L882.7,761.5 L884.3,764.6 L885.9,767.8 L887.5,770.9 L889.3,774.0 L891.0,777.1 L892.7,780.2 L894.4,783.3 L896.1,786.4 L897.7,789.6 L899.4,792.7 L901.0,795.8 L902.7,798.9 L904.5,802.0 L906.3,805.0 L908.1,808.1 L909.9,811.2 L911.7,814.3 L913.5,817.3 L915.3,820.4 L917.0,823.5 L918.7,826.6 L920.4,829.7 L922.1,832.8 L923.7,835.9 L925.4,839.0 L927.2,842.1 L929.0,845.2 L930.8,848.3 L932.5,851.3 L934.3,854.4 L936.1,857.5 L937.9,860.5 L939.7,863.6 L941.5,866.7 L943.3,869.8 L945.1,872.8 L946.9,875.9 L948.6,879.0 L950.4,882.0 L952.2,885.1 L954.0,888.2 L955.8,891.2 L957.5,894.3 L959.2,897.4 L960.9,900.6 L962.5,903.7 L964.1,906.8 L965.7,910.0 L967.2,913.2 L968.7,916.4 L970.2,919.5 L971.8,922.7 L973.5,925.8 L975.2,928.9 L976.8,932.0 L978.2,935.2 L979.6,938.5 L980.9,941.7 L982.2,945.0 L983.4,948.2 L984.5,951.5 L985.7,954.8 L986.9,958.1 L988.1,961.3 L989.4,964.6 L990.7,967.8 L992.1,971.1 L993.4,974.3 L994.9,977.5 L996.6,980.6 L998.4,983.6 L1000.3,986.6 L1002.2,989.7 L1004.2,992.7 L1006.2,995.6 L1008.2,998.6 L1010.2,1001.5 L1012.1,1004.6 L1013.9,1007.6 L1015.5,1010.8 L1017.2,1013.9 L1018.9,1017.0 L1020.7,1020.1 L1022.6,1023.1 L1024.4,1026.1 L1026.3,1029.1 L1028.3,1032.1 L1030.3,1035.1 L1032.3,1038.1 L1034.2,1041.1 L1036.1,1044.1 L1038.0,1047.1 L1039.7,1050.2 L1041.5,1053.3 L1043.2,1056.4 L1044.8,1059.5 L1046.4,1062.7 L1048.0,1065.9 L1049.5,1069.0 L1051.1,1072.2 L1052.7,1075.3 L1054.3,1078.4 L1055.9,1081.6 L1057.6,1084.7 L1059.2,1087.9 L1060.8,1091.0 L1062.4,1094.1 L1064.1,1097.3 L1065.7,1100.4 L1067.4,1103.5 L1069.0,1106.7 L1070.6,1109.8 L1072.3,1112.9 L1073.9,1116.0 L1075.6,1119.2 L1077.2,1122.3 L1078.9,1125.4 L1080.6,1128.5 L1082.3,1131.6 L1084.1,1134.7 L1085.8,1137.8 L1087.6,1140.9 L1089.4,1143.9 L1091.2,1147.0 L1093.0,1150.0 L1095.0,1153.0 L1097.0,1156.0 L1099.1,1158.9 L1101.1,1161.9 L1103.1,1164.9 L1105.0,1167.9 L1106.9,1170.9 L1108.9,1173.9 L1111.1,1176.7 L1113.5,1179.5 L1115.9,1182.2 L1118.2,1185.0 L1120.3,1187.9 L1122.3,1190.9 L1124.2,1193.9 L1126.2,1196.9 L1128.2,1199.8 L1130.2,1202.8 L1132.3,1205.7 L1134.5,1208.6 L1136.6,1211.5 L1138.7,1214.4 L1140.8,1217.4 L1142.9,1220.3 L1144.9,1223.2 L1146.9,1226.2 L1149.0,1229.2 L1151.0,1232.1 L1153.2,1235.0 L1155.6,1237.8 L1157.9,1240.5 L1160.3,1243.3 L1162.7,1246.0 L1165.2,1248.7 L1167.7,1251.4 L1170.2,1254.0 L1172.7,1256.8 L1175.0,1259.6 L1177.2,1262.4 L1179.4,1265.3 L1181.6,1268.2 L1183.7,1271.1 L1185.8,1274.0 L1187.9,1276.9 L1190.0,1279.8 L1192.2,1282.7 L1194.5,1285.5 L1196.9,1288.3 L1199.2,1291.0 L1201.6,1293.8 L1204.1,1296.5 L1206.5,1299.2 L1209.0,1301.9 L1211.5,1304.5 L1214.1,1307.2 L1216.8,1309.7 L1219.7,1312.0 L1222.7,1314.3 L1225.7,1316.6 L1228.7,1318.8 L1231.8,1321.1 L1234.8,1323.3 L1237.8,1325.6 L1240.7,1327.9 L1243.4,1330.4 L1246.1,1333.0 L1248.7,1335.6 L1251.3,1338.2 L1253.9,1340.8 L1256.5,1343.4 L1259.0,1346.1 L1261.5,1348.8 L1264.0,1351.4 L1266.6,1354.1 L1269.1,1356.7 L1271.7,1359.3 L1274.3,1361.9 L1277.0,1364.4 L1279.7,1367.0 L1282.4,1369.5 L1285.1,1372.1 L1287.7,1374.7 L1290.3,1377.3 L1292.9,1379.9 L1295.5,1382.5 L1298.1,1385.1 L1300.9,1387.6 L1303.9,1389.7 L1307.1,1391.8 L1310.3,1393.9 L1313.4,1396.0 L1316.7,1398.0 L1320.0,1400.0 L1323.3,1401.9 L1326.6,1403.8 L1329.9,1405.8 L1333.2,1407.8 L1336.4,1409.8 L1339.6,1411.8 L1342.8,1413.8 L1346.0,1415.9 L1349.2,1418.0 L1352.3,1420.1 L1355.4,1422.3 L1358.6,1424.4 L1361.7,1426.5 L1365.0,1428.5 L1368.3,1430.4 L1371.7,1432.3 L1375.0,1434.1 L1378.5,1435.9 L1382.0,1437.5 L1385.6,1439.1 L1389.1,1440.6 L1392.7,1442.1 L1396.3,1443.6 L1400.0,1445.0 L1403.6,1446.4 L1407.3,1447.8 L1410.9,1449.3 L1414.5,1450.8 L1418.1,1452.3 L1421.6,1453.9 L1425.2,1455.5 L1428.6,1457.2 L1432.1,1459.0 L1435.5,1460.7 L1438.9,1462.5 L1442.5,1464.1 L1446.1,1465.5 L1449.7,1466.9 L1453.4,1468.3 L1457.1,1469.5 L1461.0,1470.3 L1464.9,1471.1 L1468.7,1472.1 L1472.5,1473.2 L1476.3,1474.4 L1480.0,1475.5 L1483.7,1476.8 L1487.3,1478.3 L1490.9,1479.8 L1494.5,1481.3 L1498.1,1482.8 L1501.8,1484.2 L1505.5,1485.4 L1509.2,1486.6 L1513.0,1487.8 L1516.8,1488.9 L1520.6,1489.8 L1524.5,1490.6 L1528.4,1491.3 L1532.3,1492.1 L1536.3,1492.7 L1540.2,1493.3 L1544.2,1493.8 L1548.1,1494.4 L1552.0,1494.9 L1556.0,1495.5 L1559.9,1496.1 L1563.9,1496.6 L1567.8,1497.2 L1571.8,1497.7 L1575.7,1498.2 L1579.7,1498.7 L1583.6,1499.2 L1587.6,1499.8 L1591.6,1500.3 L1595.5,1500.8 L1599.5,1501.2 L1603.5,1501.5 L1607.5,1501.7 L1611.4,1501.9 L1615.4,1502.1 L1619.4,1502.3 L1623.4,1502.4 L1627.4,1502.4 L1631.4,1502.5 L1635.4,1502.5 L1639.4,1502.5 L1643.4,1502.5 L1647.4,1502.5 L1651.4,1502.6 L1655.4,1502.6 L1659.4,1502.6 L1663.4,1502.6 L1667.4,1502.6 L1671.4,1502.6 L1675.4,1502.6 L1679.4,1502.6 L1683.4,1502.6 L1687.4,1502.6 L1691.4,1502.6 L1695.4,1502.6 L1699.4,1502.6 L1703.4,1502.6 L1707.4,1502.6 L1711.4,1502.6 L1715.4,1502.6 L1719.4,1502.6 L1723.4,1502.6 L1727.4,1502.7 L1731.4,1502.8 L1735.4,1503.1 L1739.4,1503.4 L1743.4,1503.7 L1747.3,1504.2 L1751.3,1504.7 L1755.3,1505.1 L1759.1,1505.6 L1763.0,1506.0" stroke="#FF00FF"/>
<path d="M234.0,1058.0 L235.7,1055.0 L237.3,1052.1 L238.8,1049.1 L240.4,1046.1 L241.9,1043.1 L243.4,1040.1 L245.1,1037.2 L246.9,1034.3 L248.8,1031.5 L250.8,1028.7 L253.1,1026.0 L255.5,1023.5 L257.9,1020.9 L260.3,1018.3 L262.7,1015.7 L265.0,1013.0 L267.3,1010.4 L269.6,1007.7 L271.8,1005.0 L273.8,1002.2 L275.6,999.3 L277.3,996.4 L279.1,993.5 L280.7,990.6 L282.2,987.6 L283.7,984.6 L285.2,981.6 L286.8,978.6 L288.3,975.6 L289.9,972.6 L291.5,969.7 L292.9,966.7 L294.3,963.6 L295.6,960.6 L297.0,957.5 L298.5,954.5 L300.1,951.6 L301.7,948.6 L303.4,945.7 L305.2,942.8 L307.1,939.9 L309.0,937.1 L310.9,934.2 L312.9,931.4 L315.0,928.7 L317.1,925.9 L319.2,923.2 L321.2,920.4 L322.9,917.5 L324.4,914.5 L325.8,911.5 L327.2,908.4 L328.6,905.4 L330.0,902.4 L331.4,899.3 L332.8,896.3 L334.3,893.3 L335.7,890.3 L337.2,887.3 L338.8,884.3 L340.6,881.4 L342.6,878.7 L344.7,875.9 L346.8,873.1 L348.7,870.3 L350.4,867.4 L352.0,864.4 L353.5,861.4 L355.1,858.5 L356.8,855.5 L358.5,852.6 L360.3,849.7 L361.9,846.7 L363.5,843.8 L365.1,840.8 L366.6,837.8 L368.2,834.8 L370.0,831.9 L371.8,829.0 L373.6,826.1 L375.4,823.3 L377.1,820.3 L378.8,817.4 L380.5,814.5 L382.3,811.6 L383.9,808.6 L385.5,805.6 L387.0,802.7 L388.6,799.7 L390.4,796.8 L392.3,794.0 L394.3,791.2 L396.3,788.4 L398.3,785.6 L400.4,782.8 L402.4,780.0 L404.4,777.2 L406.3,774.4 L407.9,771.4 L409.2,768.4 L410.4,765.3 L411.7,762.2 L413.3,759.3 L415.0,756.3 L416.7,753.4 L418.4,750.5 L420.1,747.5 L421.7,744.6 L423.4,741.7 L425.1,738.8 L427.2,736.0 L429.5,733.3 L431.8,730.7 L434.2,728.1 L436.6,725.5 L439.1,723.0 L441.7,720.6 L444.3,718.1 L446.9,715.6 L449.3,713.1 L451.5,710.3 L453.5,707.6 L455.5,704.7 L457.5,701.9 L459.5,699.2 L461.6,696.4 L463.6,693.6 L465.6,690.8 L467.6,688.0 L469.5,685.2 L471.3,682.3 L473.2,679.4 L475.0,676.5 L476.8,673.6 L478.6,670.7 L480.4,667.8 L482.1,664.9 L484.0,662.1 L486.0,659.3 L488.1,656.5 L490.3,653.8 L492.5,651.1 L494.8,648.5 L497.4,646.1 L500.3,643.8 L503.1,641.5 L506.0,639.3 L509.0,637.1 L511.9,634.9 L514.9,632.8 L518.0,630.7 L521.1,628.6 L524.1,626.6 L527.3,624.5 L530.4,622.6 L533.6,620.6 L536.8,618.6 L540.0,616.7 L543.0,614.6 L545.9,612.4 L548.6,610.0 L551.4,607.7 L554.1,605.3 L556.9,603.0 L559.9,600.8 L563.1,598.9 L566.3,597.1 L569.6,595.2 L572.9,593.4 L576.2,591.6 L579.6,589.8 L582.9,588.1 L586.4,586.4 L590.0,585.0 L593.6,583.7 L597.4,582.6 L601.1,581.5 L605.0,580.7 L608.9,580.0 L612.8,579.2 L616.7,578.5 L620.6,578.0 L624.6,577.5 L628.5,577.0 L632.5,576.6 L636.4,576.5 L640.4,576.8 L644.3,577.4 L648.3,577.9 L652.2,578.6 L656.0,579.4 L659.8,580.5 L663.5,581.7 L667.2,582.9 L670.9,584.2 L674.5,585.6 L678.1,587.0 L681.6,588.5 L685.2,590.0 L688.6,591.6 L692.0,593.3 L695.4,595.0 L698.8,596.7 L702.1,598.5 L705.4,600.4 L708.7,602.2 L712.0,604.1 L715.2,606.0 L718.4,607.9 L721.6,609.9 L724.7,611.9 L727.9,613.9 L731.0,615.9 L733.9,618.1 L736.8,620.4 L739.6,622.7 L742.5,624.9 L745.3,627.2 L748.0,629.6 L750.7,632.0 L753.3,634.4 L756.0,636.8 L758.7,639.2 L761.4,641.6 L764.0,644.0 L766.7,646.5 L769.4,648.9 L772.0,651.3 L774.4,653.9 L776.7,656.5 L778.9,659.2 L781.1,661.9 L783.1,664.7 L784.9,667.6 L786.6,670.5 L788.6,673.3 L790.6,676.1 L792.8,678.8 L795.1,681.5 L797.4,684.1 L799.7,686.8 L802.1,689.4 L804.5,691.9 L807.0,694.5 L809.3,697.1 L811.5,699.8 L813.7,702.5 L815.8,705.2 L817.9,708.0 L819.8,710.9 L821.7,713.7 L823.6,716.5 L825.2,719.5 L826.7,722.5 L828.5,725.3 L830.4,728.1 L832.3,731.0 L834.0,733.9 L835.9,736.8 L837.9,739.6 L840.1,742.3 L842.5,744.9 L844.9,747.5 L847.2,750.1 L849.5,752.8 L851.7,755.5 L853.8,758.2 L856.0,760.9 L858.0,763.7 L860.0,766.5 L862.0,769.3 L864.1,772.1 L866.3,774.8 L868.4,777.5 L870.2,780.4 L871.8,783.3 L873.3,786.3 L874.9,789.3 L876.5,792.3 L878.0,795.3 L879.6,798.2 L881.2,801.2 L882.7,804.2 L884.3,807.2 L885.9,810.1 L887.5,813.1 L889.3,816.0 L891.0,818.9 L892.7,821.8 L894.4,824.7 L896.1,827.7 L897.7,830.6 L899.4,833.6 L901.0,836.5 L902.7,839.5 L904.5,842.4 L906.3,845.2 L908.1,848.1 L909.9,851.0 L911.7,853.9 L913.5,856.8 L915.3,859.7 L917.0,862.6 L918.7,865.5 L920.4,868.5 L922.1,871.4 L923.7,874.4 L925.4,877.3 L927.2,880.2 L929.0,883.1 L930.8,886.0 L932.5,888.9 L934.3,891.8 L936.1,894.7 L937.9,897.6 L939.7,900.5 L941.5,903.4 L943.3,906.3 L945.1,909.2 L946.9,912.0 L948.6,914.9 L950.4,917.8 L952.2,920.7 L954.0,923.6 L955.8,926.5 L957.5,929.4 L959.2,932.4 L960.9,935.3 L962.5,938.3 L964.1,941.2 L965.7,944.2 L967.2,947.2 L968.7,950.2 L970.2,953.2 L971.8,956.2 L973.5,959.1 L975.2,962.0 L976.8,965.0 L978.2,968.0 L979.6,971.1 L980.9,974.1 L982.2,977.2 L983.4,980.3 L984.5,983.4 L985.7,986.4 L986.9,989.5 L988.1,992.6 L989.4,995.7 L990.7,998.7 L992.1,1001.8 L993.4,1004.8 L994.9,1007.8 L996.6,1010.8 L998.4,1013.6 L1000.3,1016.5 L1002.2,1019.3 L1004.2,1022.1 L1006.2,1024.9 L1008.2,1027.7 L1010.2,1030.5 L1012.1,1033.4 L1013.9,1036.3 L1015.5,1039.2 L1017.2,1042.2 L1018.9,1045.1 L1020.7,1048.0 L1022.6,1050.8 L1024.4,1053.7 L1026.3,1056.5 L1028.3,1059.4 L1030.3,1062.2 L1032.3,1065.0 L1034.2,1067.8 L1036.1,1070.6 L1038.0,1073.5 L1039.7,1076.4 L1041.5,1079.3 L1043.2,1082.2 L1044.8,1085.2 L1046.4,1088.2 L1048.0,1091.2 L1049.5,1094.1 L1051.1,1097.1 L1052.7,1100.1 L1054.3,1103.0 L1055.9,1106.0 L1057.6,1109.0 L1059.2,1111.9 L1060.8,1114.9 L1062.4,1117.8 L1064.1,1120.8 L1065.7,1123.7 L1067.4,1126.7 L1069.0,1129.6 L1070.6,1132.6 L1072.3,1135.5 L1073.9,1138.5 L1075.6,1141.4 L1077.2,1144.4 L1078.9,1147.3 L1080.6,1150.2 L1082.3,1153.2 L1084.1,1156.1 L1085.8,1159.0 L1087.6,1161.9 L1089.4,1164.8 L1091.2,1167.7 L1093.0,1170.5 L1095.0,1173.4 L1097.0,1176.1 L1099.1,1178.9 L1101.1,1181.7 L1103.1,1184.5 L1105.0,1187.4 L1106.9,1190.2 L1108.9,1193.0 L1111.1,1195.7 L1113.5,1198.3 L1115.9,1200.8 L1118.2,1203.5 L1120.3,1206.2 L1122.3,1209.1 L1124.2,1211.9 L1126.2,1214.7 L1128.2,1217.5 L1130.2,1220.3 L1132.3,1223.0 L1134.5,1225.8 L1136.6,1228.5 L1138.7,1231.3 L1140.8,1234.0 L1142.9,1236.8 L1144.9,1239.6 L1146.9,1242.4 L1149.0,1245.1 L1151.0,1247.9 L1153.2,1250.6 L1155.6,1253.2 L1157.9,1255.9 L1160.3,1258.5 L1162.7,1261.0 L1165.2,1263.5 L1167.7,1266.1 L1170.2,1268.6 L1172.7,1271.2 L1175.0,1273.8 L1177.2,1276.5 L1179.4,1279.2 L1181.6,1281.9 L1183.7,1284.6 L1185.8,1287.4 L1187.9,1290.2 L1190.0,1292.9 L1192.2,1295.6 L1194.5,1298.3 L1196.9,1300.9 L1199.2,1303.5 L1201.6,1306.1 L1204.1,1308.6 L1206.5,1311.2 L1209.0,1313.7 L1211.5,1316.2 L1214.1,1318.7 L1216.8,1321.1 L1219.7,1323.3 L1222.7,1325.4 L1225.7,1327.6 L1228.7,1329.7 L1231.8,1331.8 L1234.8,1333.9 L1237.8,1336.0 L1240.7,1338.3 L1243.4,1340.6 L1246.1,1343.1 L1248.7,1345.5 L1251.3,1347.9 L1253.9,1350.4 L1256.5,1352.9 L1259.0,1355.4 L1261.5,1357.9 L1264.0,1360.4 L1266.6,1362.9 L1269.1,1365.4 L1271.7,1367.9 L1274.3,1370.3 L1277.0,1372.7 L1279.7,1375.1 L1282.4,1377.5 L1285.1,1379.9 L1287.7,1382.3 L1290.3,1384.8 L1292.9,1387.3 L1295.5,1389.8 L1298.1,1392.2 L1300.9,1394.5 L1303.9,1396.6 L1307.1,1398.5 L1310.3,1400.5 L1313.4,1402.5 L1316.7,1404.4 L1320.0,1406.2 L1323.3,1408.0 L1326.6,1409.8 L1329.9,1411.7 L1333.2,1413.5 L1336.4,1415.4 L1339.6,1417.4 L1342.8,1419.3 L1346.0,1421.2 L1349.2,1423.2 L1352.3,1425.2 L1355.4,1427.2 L1358.6,1429.3 L1361.7,1431.2 L1365.0,1433.1 L1368.3,1434.9 L1371.7,1436.7 L1375.0,1438.4 L1378.5,1440.1 L1382.0,1441.6 L1385.6,1443.1 L1389.1,1444.5 L1392.7,1446.0 L1396.3,1447.3 L1400.0,1448.7 L1403.6,1450.0 L1407.3,1451.3 L1410.9,1452.7 L1414.5,1454.1 L1418.1,1455.6 L1421.6,1457.0 L1425.2,1458.5 L1428.6,1460.1 L1432.1,1461.8 L1435.5,1463.5 L1438.9,1465.1 L1442.5,1466.6 L1446.1,1468.0 L1449.7,1469.3 L1453.4,1470.6 L1457.1,1471.7 L1461.0,1472.5 L1464.9,1473.3 L1468.7,1474.2 L1472.5,1475.3 L1476.3,1476.3 L1480.0,1477.4 L1483.7,1478.7 L1487.3,1480.0 L1490.9,1481.5 L1494.5,1482.9 L1498.1,1484.3 L1501.8,1485.6 L1505.5,1486.8 L1509.2,1487.9 L1513.0,1489.0 L1516.8,1490.0 L1520.6,1490.9 L1524.5,1491.6 L1528.4,1492.4 L1532.3,1493.0 L1536.3,1493.6 L1540.2,1494.2 L1544.2,1494.7 L1548.1,1495.2 L1552.0,1495.7 L1556.0,1496.3 L1559.9,1496.8 L1563.9,1497.4 L1567.8,1497.9 L1571.8,1498.4 L1575.7,1498.8 L1579.7,1499.3 L1583.6,1499.8 L1587.6,1500.3 L1591.6,1500.8 L1595.5,1501.2 L1599.5,1501.6 L1603.5,1501.9 L1607.5,1502.1 L1611.4,1502.3 L1615.4,1502.5 L1619.4,1502.7 L1623.4,1502.8 L1627.4,1502.8 L1631.4,1502.8 L1635.4,1502.9 L1639.4,1502.9 L1643.4,1502.9 L1647.4,1502.9 L1651.4,1502.9 L1655.4,1502.9 L1659.4,1502.9 L1663.4,1502.9 L1667.4,1502.9 L1671.4,1502.9 L1675.4,1502.9 L1679.4,1502.9 L1683.4,1502.9 L1687.4,1502.9 L1691.4,1502.9 L1695.4,1502.9 L1699.4,1502.9 L1703.4,1502.9 L1707.4,1503.0 L1711.4,1503.0 L1715.4,1503.0 L1719.4,1503.0 L1723.4,1503.0 L1727.4,1503.0 L1731.4,1503.2 L1735.4,1503.4 L1739.4,1503.7 L1743.4,1504.0 L1747.3,1504.4 L1751.3,1504.9 L1755.3,1505.4 L1759.1,1505.8 L1763.0,1506.2" stroke="#008000"/>
</g>
<rect x="207" y="235" width="28" height="1273" fill="#C0C0C0" stroke="#000" stroke-width="2"/>
<rect x="234" y="236" width="3" height="1273" fill="#000"/>
<g class="sans">
<text x="233.7" y="196.6" text-anchor="middle">0</text>
<text x="617.0" y="196.6" text-anchor="middle">10</text>
<text x="1000.3" y="196.6" text-anchor="middle">20</text>
<text x="1383.6" y="196.6" text-anchor="middle">30</text>
<text x="1766.9" y="196.6" text-anchor="middle">40</text>
<text x="190.5" y="1525.0" text-anchor="end">0</text>
<text x="190.5" y="1242.7" text-anchor="end">2</text>
<text x="190.5" y="960.3" text-anchor="end">4</text>
<text x="190.5" y="678.0" text-anchor="end">6</text>
<text x="190.5" y="395.6" text-anchor="end">8</text>
</g>
<text class="serif" x="682" y="107.5" style="font-size:69.4px" textLength="740" lengthAdjust="spacing">Distance from the wall (m)</text>
<text class="serif" transform="translate(128.5,1310.8) rotate(-90)" x="0" y="0" style="font-size:69.4px" textLength="783" lengthAdjust="spacing">Ground deformation <tspan font-style="italic">S</tspan> (mm)</text>
<rect x="1439.2" y="291.2" width="502.6" height="432.6" fill="#fff" stroke="#000" stroke-width="2"/>
<g class="serif">
<rect x="1473" y="343.7" width="153" height="8" fill="#000000"/>
<text x="1643" y="370.7" style="font-size:69.5px" textLength="286" lengthAdjust="spacing"><tspan font-style="italic">E</tspan>= 15GPa</text>
<rect x="1473" y="427.9" width="153" height="8" fill="#FF0000"/>
<text x="1643" y="454.9" style="font-size:69.5px" textLength="286" lengthAdjust="spacing"><tspan font-style="italic">E</tspan>= 20GPa</text>
<rect x="1473" y="512.2" width="153" height="8" fill="#0000FF"/>
<text x="1643" y="539.2" style="font-size:69.5px" textLength="286" lengthAdjust="spacing"><tspan font-style="italic">E</tspan>= 25GPa</text>
<rect x="1473" y="596.5" width="153" height="8" fill="#FF00FF"/>
<text x="1643" y="623.5" style="font-size:69.5px" textLength="286" lengthAdjust="spacing"><tspan font-style="italic">E</tspan>= 30GPa</text>
<rect x="1473" y="680.7" width="153" height="8" fill="#008000"/>
<text x="1643" y="707.7" style="font-size:69.5px" textLength="286" lengthAdjust="spacing"><tspan font-style="italic">E</tspan>= 35GPa</text>
</g>
</svg>
</body></html>
